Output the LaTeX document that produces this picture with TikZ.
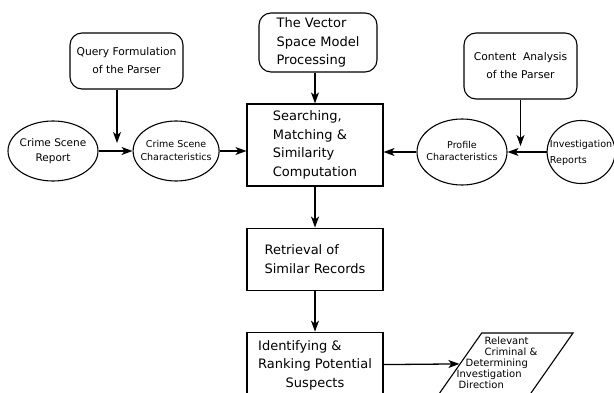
\documentclass[tikz,border=0pt]{standalone}
\usepackage{fontspec}
\setmainfont{DejaVu Sans}
\usetikzlibrary{arrows.meta,positioning,shapes.geometric}
\newcommand{\ovtxt}[2][c]{\makebox[0pt]{\begin{tabular}{@{}#1@{}}#2\end{tabular}}}
\tikzset{
    %Define standard arrow tip
    >={Stealth[length=11pt,width=8pt,inset=3pt]},
    %Define style for boxes
    stepbox/.style={
           rectangle,
           draw=black, line width=1.1pt,
           minimum width=136pt,
           inner sep=0pt,
           align=left,
           font=\fontsize{13}{18.5}\selectfont},
    roundbox/.style={
           rectangle, rounded corners=12pt,
           draw=black, line width=1.1pt,
           minimum width=113pt,
           inner sep=0pt,
           align=center,
           font=\fontsize{10.7}{18}\selectfont},
    % Define arrow style
    pil/.style={
           ->,
           line width=1.3pt}
}
\begin{document}
\begin{tikzpicture}[x=1pt, y=1pt,
oval/.style={ellipse, draw=black, line width=1.1pt, inner sep=0pt},
para/.style={trapezium, trapezium left angle=55, trapezium right angle=125,
    draw=black, line width=1.1pt, inner sep=0pt,
    text width=48.6pt, text height=61pt, text depth=0pt}
]
\useasboundingbox (0,0) rectangle (614,392);
\clip (0,0) rectangle (614,392);
%Nodes
\node[stepbox, minimum height=82pt] (search) at (315,247) {Searching,\\Matching \&\\Similarity\\Computation};
\node[stepbox, rounded corners=12pt, minimum width=118pt, minimum height=59pt] (vector) at (318,349.5) {The Vector\\Space Model\\Processing};
\node[stepbox, minimum height=62pt] (retr) [below=41pt of search] {Retrieval of\\Similar Records};
\node[stepbox, minimum height=66pt] (ident) [below=41pt of retr] {\begin{tabular}{@{}l@{}}Identifying \&\\Ranking Potential\\\multicolumn{1}{@{}c@{}}{Suspects}\end{tabular}};
\node[roundbox, minimum height=56pt] (query) at (126.5,331) {Query Formulation\\of the Parser};
\node[roundbox, minimum height=66pt] (content) at (520.5,326) {Content~ Analysis\\of the Parser};
\node[oval, minimum width=90pt, minimum height=60pt, font=\fontsize{10.5}{15}\selectfont] (report) at (53,241) {\ovtxt{Crime Scene\\Report}};
\node[oval, minimum width=86pt, minimum height=60pt, font=\fontsize{9.5}{13}\selectfont] (crimechar) [right=34pt of report] {\ovtxt{Crime Scene\\Characteristics}};
\node[oval, minimum width=90pt, minimum height=66pt, font=\fontsize{9.5}{12}\selectfont] (prof) at (462,240) {\ovtxt{Profile\\Characteristics}};
\node[oval, minimum width=68pt, minimum height=63pt, font=\fontsize{9.6}{16}\selectfont] (invrep) [right=39pt of prof] {\ovtxt[l]{Investigation\\Reports}};
\node[para] (relev) at (506,28.5) {};
\node[font=\fontsize{10}{11}\selectfont, align=left, inner sep=0pt] (relevtxt) at (497,29) {\hspace*{28pt}Relevant\\\hspace*{28pt}Criminal \&\\\hspace*{9pt}Determining\\Investigation\\\hspace*{2pt}Direction};
% Arrow ends
\path (query.south) ++(-9.5,0) coordinate (qtop);
\path (qtop |- report.east) ++(0,8) coordinate (qend);
\path (content.south |- prof.east) ++(0,6) coordinate (cend);
% Arrows
\draw[pil] (vector.south -| search.north) -- (search.north);
\draw[pil] (qtop) -- (qend);
\draw[pil] (report) -- (crimechar);
\draw[pil] (crimechar.east) -- (crimechar.east -| search.west);
\draw[pil] (content.south) -- (cend);
\draw[pil] (invrep) -- (prof);
\draw[pil] (prof.west) -- (prof.west -| search.east);
\draw[pil] (search) -- (retr);
\draw[pil] (retr) -- (ident);
\draw[pil] (ident) -- (relev);
\end{tikzpicture}
\end{document}
